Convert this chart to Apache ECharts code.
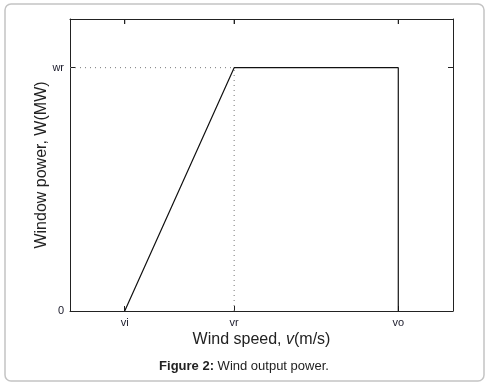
<!DOCTYPE html>
<html><head><meta charset="utf-8">
<script src="https://cdn.jsdelivr.net/npm/echarts@6/dist/echarts.min.js"></script>
<style>html,body{margin:0;padding:0;background:#fff}#c{width:488px;height:385px}</style>
</head><body><div id="c"></div>
<script>
// Data
const xTickValues = [1, 3, 6];
const xTickLabels = ['vi', 'vr', 'vo'];
const yTickValues = [0, 1];
const yTickLabels = ['0', 'wr'];
const powerCurveX = [1, 3, 6, 6];
const powerCurveY = [0, 1, 1, 0];
const guideH_X = [0, 3];
const guideH_Y = [1, 1];
const guideV_X = [3, 3];
const guideV_Y = [0, 1];
const xRange = [0, 7];
const yRange = [0, 1.2];

const zip = (a, b) => a.map((v, i) => [v, b[i]]);
const font = 'Liberation Sans, Arial, sans-serif';

const chart = echarts.init(document.getElementById('c'), null, {renderer: 'canvas'});
const xl = (v) => { const i = xTickValues.indexOf(v); return i >= 0 ? xTickLabels[i] : ''; };
const yl = (v) => { const i = yTickValues.indexOf(v); return i >= 0 ? yTickLabels[i] : ''; };
const lineAx = {show: true, onZero: false, lineStyle: {color: '#222', width: 1}};
const tick = (vals, len) => ({show: true, inside: true, length: len, customValues: vals, lineStyle: {color: '#222', width: 1}});
chart.setOption({
  animation: false,
  grid: {left: 70, right: 35, top: 19, bottom: 74, show: false},
  xAxis: [{
    type: 'value', min: xRange[0], max: xRange[1], position: 'bottom',
    axisLine: lineAx, axisTick: tick(xTickValues, 5),
    axisLabel: {customValues: xTickValues, formatter: xl, color: '#1a1a2a', fontFamily: font, fontSize: 11, margin: 6},
    splitLine: {show: false},
    name: '{a|Wind speed, }{b|v}{a|(m/s)}', nameLocation: 'middle', nameGap: 21, nameMoveOverlap: false,
    nameTextStyle: {rich: {a: {fontFamily: font, fontSize: 16, color: '#222'}, b: {fontFamily: font, fontSize: 16, fontStyle: 'italic', color: '#222'}}}
  }, {
    type: 'value', min: xRange[0], max: xRange[1], position: 'top',
    axisLine: lineAx, axisTick: tick(xTickValues, 5),
    axisLabel: {show: false}, splitLine: {show: false}
  }],
  yAxis: [{
    type: 'value', min: yRange[0], max: yRange[1], position: 'left',
    axisLine: lineAx, axisTick: tick(yTickValues, 5),
    axisLabel: {customValues: yTickValues, formatter: yl, color: '#1a1a2a', fontFamily: font, fontSize: 11, margin: 6},
    splitLine: {show: false},
    name: 'Window power, W(MW)', nameLocation: 'middle', nameGap: 20, nameRotate: 90, nameMoveOverlap: false,
    nameTextStyle: {fontFamily: font, fontSize: 16, color: '#222'}
  }, {
    type: 'value', min: yRange[0], max: yRange[1], position: 'right',
    axisLine: lineAx, axisTick: tick(yTickValues, 5),
    axisLabel: {show: false}, splitLine: {show: false}
  }],
  series: [{
    type: 'line', data: zip(powerCurveX, powerCurveY), showSymbol: false,
    lineStyle: {color: '#111', width: 1.2}, z: 5
  }, {
    type: 'line', data: zip(guideH_X, guideH_Y), showSymbol: false,
    lineStyle: {color: '#777', width: 1, type: [1, 4]}
  }, {
    type: 'line', data: zip(guideV_X, guideV_Y), showSymbol: false,
    lineStyle: {color: '#777', width: 1, type: [1, 4]}
  }, {
    // top-edge inward tick marks, placed through the axis scale
    type: 'scatter', silent: true, clip: false,
    data: xTickValues.map(v => [v, yRange[1]]),
    symbol: 'rect', symbolSize: [1.2, 5], symbolOffset: [0, 2.5],
    itemStyle: {color: '#222'}, z: 6
  }],
  title: {
    text: '{b|Figure 2:} {a|Wind output power.}', left: 'center', top: 355,
    textStyle: {fontWeight: 'normal', fontSize: 13, fontFamily: font,
      rich: {a: {fontFamily: font, fontSize: 13, fontWeight: 'normal', color: '#222'}, b: {fontFamily: font, fontSize: 13, fontWeight: 'bold', color: '#222'}}}
  },
  graphic: [{
    type: 'rect', shape: {x: 5, y: 4, width: 479, height: 377, r: 6},
    style: {fill: 'none', stroke: '#c4c4c4', lineWidth: 1.5}, silent: true, z: -1
  }]
});
</script></body></html>
